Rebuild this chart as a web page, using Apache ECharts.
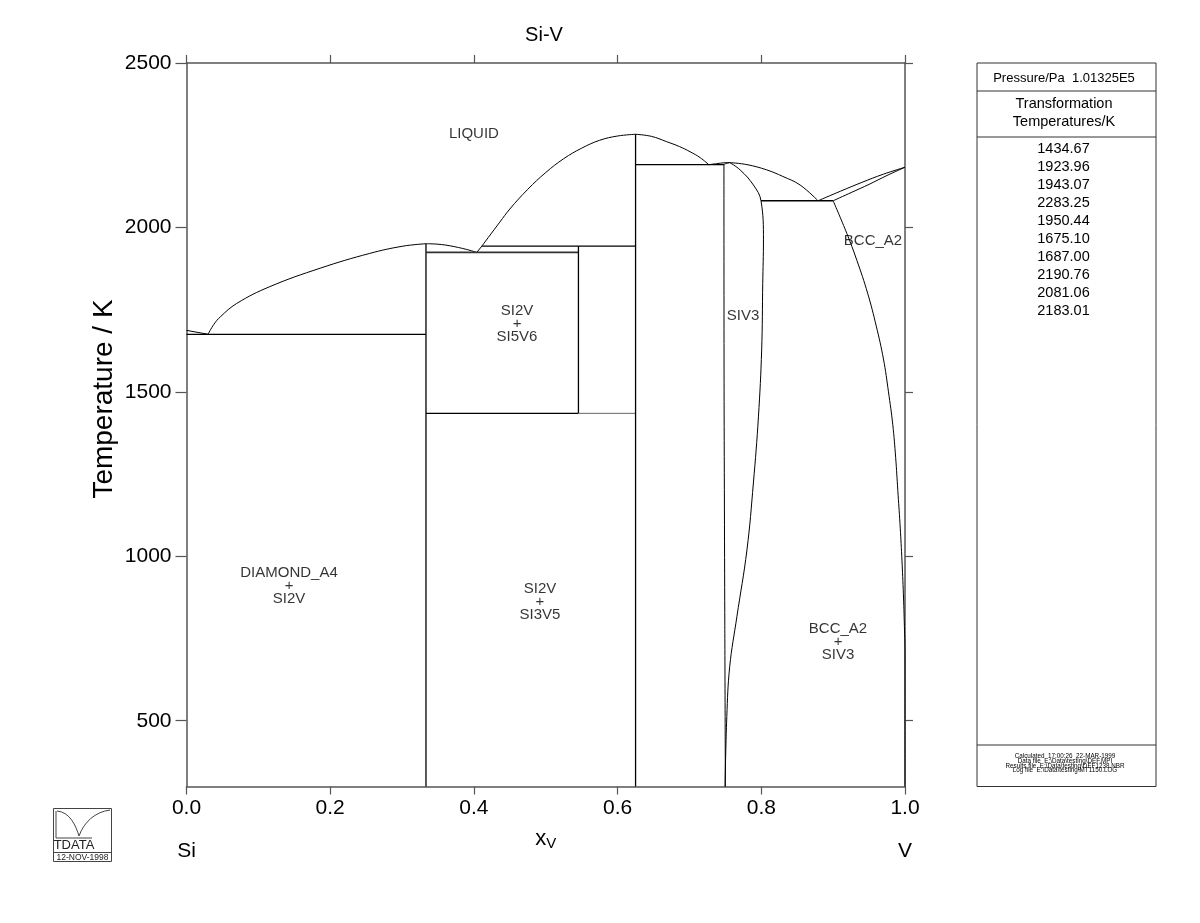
<!DOCTYPE html>
<html><head><meta charset="utf-8">
<script src="https://cdn.jsdelivr.net/npm/echarts@6/dist/echarts.min.js"></script>
<style>html,body{margin:0;padding:0;background:#fff}#c{width:1200px;height:923px}</style>
</head><body><div id="c"></div>
<script>
// ---------- axis ticks ----------
const xTicks = [0, 0.2, 0.4, 0.6, 0.8, 1.0];
const xTickLabels = ['0.0', '0.2', '0.4', '0.6', '0.8', '1.0'];
const yTicks = [500, 1000, 1500, 2000, 2500];
const yTickLabels = ['500', '1000', '1500', '2000', '2500'];
const yMin = 300, yMax = 2500;

// ---------- phase boundaries  [x(V), T/K] ----------
const siLiquidus = [[0, 1687.00], [0.030, 1675.10]];
const si2vLeftLiquidus = [[0.030, 1675.10], [0.038, 1705], [0.047, 1728], [0.070, 1769], [0.116, 1820], [0.186, 1876], [0.255, 1921], [0.301, 1943], [0.3333, 1950.44]];
const si2vRightLiquidus = [[0.3333, 1950.44], [0.350, 1949], [0.367, 1944], [0.390, 1933], [0.404, 1923.96]];
const eutLiquidus = [[0.404, 1923.96], [0.411, 1943.07]];
const si3v5LeftLiquidus = [[0.411, 1943.07], [0.436, 2016], [0.450, 2056], [0.475, 2116], [0.500, 2167], [0.525, 2209], [0.550, 2241], [0.575, 2265], [0.600, 2278], [0.625, 2283.25]];
const si3v5RightLiquidus = [[0.625, 2283.25], [0.647, 2277], [0.668, 2261], [0.686, 2246], [0.701, 2230], [0.715, 2212], [0.727, 2190.76]];
const siv3LeftLiquidus = [[0.727, 2190.76], [0.738, 2194], [0.748, 2196.5], [0.756, 2197.2]];
const siv3RightLiquidus = [[0.756, 2197.2], [0.780, 2191], [0.8075, 2175], [0.830, 2155], [0.854, 2129], [0.879, 2081.06]];
const siv3RightBoundary = [[0.756, 2197.2], [0.7705, 2175], [0.789, 2129], [0.7996, 2081.06], [0.803, 1962], [0.802, 1830], [0.8005, 1627], [0.796, 1424], [0.789, 1223], [0.780, 1019], [0.766, 816], [0.756, 664], [0.752, 512], [0.7495, 300]];
const siv3LeftBoundary = [[0.756, 2197.2], [0.750, 2193.5], [0.748, 2190.76], [0.7482, 1500], [0.7492, 800], [0.7500, 300]];
const vLiquidus = [[0.879, 2081.06], [0.910, 2110], [0.940, 2137], [0.970, 2162], [1.0, 2183.01]];
const vSolidus = [[0.900, 2081.06], [0.925, 2106], [0.950, 2131], [0.975, 2158], [1.0, 2183.01]];
const bccSolvus = [[0.900, 2081.06], [0.919, 1982], [0.933, 1900], [0.948, 1800], [0.960, 1700], [0.970, 1600], [0.977, 1500], [0.983, 1400], [0.987, 1300], [0.990, 1200], [0.993, 1100], [0.9955, 1000], [0.9975, 900], [0.999, 800], [1.0, 700], [1.0, 300]];

// invariant lines and line compounds
const eut1675 = [[0, 1675.10], [0.3333, 1675.10]];
const si2vLine = [[0.3333, 1950.44], [0.3333, 300]];
const eut1924 = [[0.3333, 1923.96], [0.5455, 1923.96]];
const per1943 = [[0.411, 1943.07], [0.625, 1943.07]];
const si5v6Line = [[0.5455, 1943.07], [0.5455, 1434.67]];
const eutd1435a = [[0.3333, 1434.67], [0.5455, 1434.67]];
const eutd1435b = [[0.5455, 1434.67], [0.625, 1434.67]];
const si3v5Line = [[0.625, 2283.25], [0.625, 300]];
const eut2191 = [[0.625, 2190.76], [0.748, 2190.76]];
const eut2081 = [[0.7996, 2081.06], [0.900, 2081.06]];

// region labels
const regionLabels = [
  { name: 'LIQUID', value: [0.400, 2285] },
  { name: 'DIAMOND_A4\n+\nSI2V', value: [0.1427, 911] },
  { name: 'SI2V\n+\nSI5V6', value: [0.460, 1707] },
  { name: 'SI2V\n+\nSI3V5', value: [0.492, 861] },
  { name: 'SIV3', value: [0.7745, 1731] },
  { name: 'BCC_A2', value: [0.9555, 1959] },
  { name: 'BCC_A2\n+\nSIV3', value: [0.9068, 739] }
];

// side panel texts
const pressureText = 'Pressure/Pa  1.01325E5';
const panelHeader = ['Transformation', 'Temperatures/K'];
const transformationTemps = ['1434.67', '1923.96', '1943.07', '2283.25', '1950.44', '1675.10', '1687.00', '2190.76', '2081.06', '2183.01'];
const footerLines = ['Calculated  17:00:26  22-MAR-1999', 'Data file  E:\\Data\\testing\\DEF.MPI', 'Results file  E:\\Data\\testing\\DEF1238.NBR', 'Log file  E:\\Data\\testing\\MT1150.LOG'];

const FONT = '"Liberation Sans", Arial, sans-serif';

function lineSeries(data, opts) {
  opts = opts || {};
  return {
    type: 'line', data: data, showSymbol: false, symbol: 'none',
    smooth: opts.smooth || false, silent: true, animation: false,
    lineStyle: { color: opts.color || '#000', width: opts.width || 1 },
    z: 3
  };
}

const series = [
  lineSeries(siLiquidus),
  lineSeries(si2vLeftLiquidus, { smooth: 0.4 }),
  lineSeries(si2vRightLiquidus, { smooth: 0.4 }),
  lineSeries(eutLiquidus),
  lineSeries(si3v5LeftLiquidus, { smooth: 0.4 }),
  lineSeries(si3v5RightLiquidus, { smooth: 0.4 }),
  lineSeries(siv3LeftLiquidus, { smooth: 0.4 }),
  lineSeries(siv3RightLiquidus, { smooth: 0.4 }),
  lineSeries(siv3RightBoundary, { smooth: 0.4 }),
  lineSeries(siv3LeftBoundary, { smooth: 0.2 }),
  lineSeries(vLiquidus, { smooth: 0.4 }),
  lineSeries(vSolidus, { smooth: 0.4 }),
  lineSeries(bccSolvus, { smooth: 0.4 }),
  lineSeries(eut1675, { width: 1.3 }),
  lineSeries(si2vLine, { width: 1.3 }),
  lineSeries(eut1924, { width: 1.8, color: '#333' }),
  lineSeries(per1943, { width: 1.3 }),
  lineSeries(si5v6Line, { width: 1.3 }),
  lineSeries(eutd1435a, { width: 1.3 }),
  lineSeries(eutd1435b, { width: 1, color: '#666' }),
  lineSeries(si3v5Line, { width: 1.3 }),
  lineSeries(eut2191, { width: 1.3 }),
  lineSeries(eut2081, { width: 1.3 }),
  {
    type: 'scatter', data: regionLabels, symbolSize: 0, silent: true, animation: false,
    label: {
      show: true, position: 'inside', formatter: '{b}', color: '#000',
      fontFamily: FONT, fontSize: 15, lineHeight: 13, align: 'center', verticalAlign: 'middle'
    },
    z: 5
  }
];

const axisLineStyle = { color: '#555', width: 1.5 };
const tickStyle = { show: true, inside: false, length: 8, lineStyle: { color: '#555', width: 1.2 } };

const graphic = [
  { type: 'text', x: 544, y: 35, style: { text: 'Si-V', font: '20px ' + FONT, fill: '#000', align: 'center', verticalAlign: 'middle' } },
  { type: 'text', x: 104, y: 399, rotation: Math.PI / 2, style: { text: 'Temperature / K', font: '28px ' + FONT, fill: '#000', align: 'center', verticalAlign: 'middle' } },
  { type: 'text', x: 186.5, y: 851, style: { text: 'Si', font: '21px ' + FONT, fill: '#000', align: 'center', verticalAlign: 'middle' } },
  { type: 'text', x: 905, y: 851, style: { text: 'V', font: '21px ' + FONT, fill: '#000', align: 'center', verticalAlign: 'middle' } },
  // side panel
  { type: 'rect', shape: { x: 977, y: 63, width: 179, height: 723.5 }, style: { fill: 'none', stroke: '#333', lineWidth: 1 } },
  { type: 'line', shape: { x1: 977, y1: 91, x2: 1156, y2: 91 }, style: { stroke: '#333', lineWidth: 1 } },
  { type: 'line', shape: { x1: 977, y1: 137, x2: 1156, y2: 137 }, style: { stroke: '#333', lineWidth: 1 } },
  { type: 'line', shape: { x1: 977, y1: 745, x2: 1156, y2: 745 }, style: { stroke: '#333', lineWidth: 1 } },
  { type: 'text', x: 1064, y: 78, style: { text: pressureText, font: '13px ' + FONT, fill: '#000', align: 'center', verticalAlign: 'middle' } },
  // logo
  { type: 'rect', shape: { x: 53.5, y: 808.5, width: 58, height: 53 }, style: { fill: 'none', stroke: '#444', lineWidth: 1 } },
  { type: 'line', shape: { x1: 53.5, y1: 852.5, x2: 111.5, y2: 852.5 }, style: { stroke: '#444', lineWidth: 1 } },
  { type: 'line', shape: { x1: 56, y1: 811, x2: 56, y2: 838 }, style: { stroke: '#444', lineWidth: 1 } },
  { type: 'line', shape: { x1: 56, y1: 838, x2: 92, y2: 838 }, style: { stroke: '#444', lineWidth: 1 } },
  { type: 'bezierCurve', shape: { x1: 57, y1: 811, cpx1: 70, cpy1: 812, x2: 79, y2: 836, cpx2: 76, cpy2: 826 }, style: { fill: 'none', stroke: '#444', lineWidth: 1 } },
  { type: 'bezierCurve', shape: { x1: 79, y1: 836, cpx1: 84, cpy1: 822, x2: 110, y2: 810, cpx2: 95, cpy2: 812 }, style: { fill: 'none', stroke: '#444', lineWidth: 1 } },
  { type: 'text', x: 74, y: 845.5, style: { text: 'TDATA', font: '13px ' + FONT, fill: '#222', align: 'center', verticalAlign: 'middle' } },
  { type: 'text', x: 82.5, y: 857.5, style: { text: '12-NOV-1998', font: '8.5px ' + FONT, fill: '#222', align: 'center', verticalAlign: 'middle' } }
];
panelHeader.forEach(function (t, i) {
  graphic.push({ type: 'text', x: 1064, y: 103.5 + i * 18.3, style: { text: t, font: '14.5px ' + FONT, fill: '#000', align: 'center', verticalAlign: 'middle' } });
});
transformationTemps.forEach(function (t, i) {
  graphic.push({ type: 'text', x: 1063.5, y: 148.5 + i * 18.1, style: { text: t, font: '14.5px ' + FONT, fill: '#000', align: 'center', verticalAlign: 'middle' } });
});
footerLines.forEach(function (t, i) {
  graphic.push({ type: 'text', x: 1065, y: 756 + i * 4.9, style: { text: t, font: '6.3px ' + FONT, fill: '#000', align: 'center', verticalAlign: 'middle' } });
});

function pickLabel(v, ticks, labels) {
  const i = ticks.findIndex(function (t) { return Math.abs(t - v) < 1e-6; });
  return i >= 0 ? labels[i] : '';
}

const chart = echarts.init(document.getElementById('c'), null, { renderer: 'canvas' });
chart.setOption({
  backgroundColor: '#fff',
  animation: false,
  grid: { left: 186.5, right: 295, top: 63, bottom: 136.5, containLabel: false },
  xAxis: [
    {
      type: 'value', min: 0, max: 1, interval: 0.2, position: 'bottom',
      axisLine: { show: true, onZero: false, lineStyle: axisLineStyle },
      axisTick: tickStyle, splitLine: { show: false },
      axisLabel: {
        margin: 11, color: '#000', fontFamily: FONT, fontSize: 21,
        formatter: function (v) { return pickLabel(v, xTicks, xTickLabels); }
      },
      name: '{x|x}{v|V}', nameLocation: 'middle', nameGap: 40,
      nameTextStyle: { rich: { x: { fontFamily: FONT, fontSize: 22, color: '#000' }, v: { fontFamily: FONT, fontSize: 15, color: '#000', padding: [10, 0, 0, 0] } } }
    },
    {
      type: 'value', min: 0, max: 1, interval: 0.2, position: 'top',
      axisLine: { show: true, onZero: false, lineStyle: axisLineStyle },
      axisTick: tickStyle, splitLine: { show: false }, axisLabel: { show: false }
    }
  ],
  yAxis: [
    {
      type: 'value', min: yMin, max: yMax, position: 'left',
      axisLine: { show: true, onZero: false, lineStyle: axisLineStyle },
      axisTick: Object.assign({}, tickStyle, { customValues: yTicks, length: 11 }),
      splitLine: { show: false },
      axisLabel: {
        customValues: yTicks, margin: 15, color: '#000', fontFamily: FONT, fontSize: 21,
        formatter: function (v) { return pickLabel(v, yTicks, yTickLabels); }
      }
    },
    {
      type: 'value', min: yMin, max: yMax, position: 'right',
      axisLine: { show: true, onZero: false, lineStyle: axisLineStyle },
      axisTick: Object.assign({}, tickStyle, { customValues: yTicks }),
      splitLine: { show: false }, axisLabel: { show: false }
    }
  ],
  series: series,
  graphic: graphic
});
</script>
</body></html>
